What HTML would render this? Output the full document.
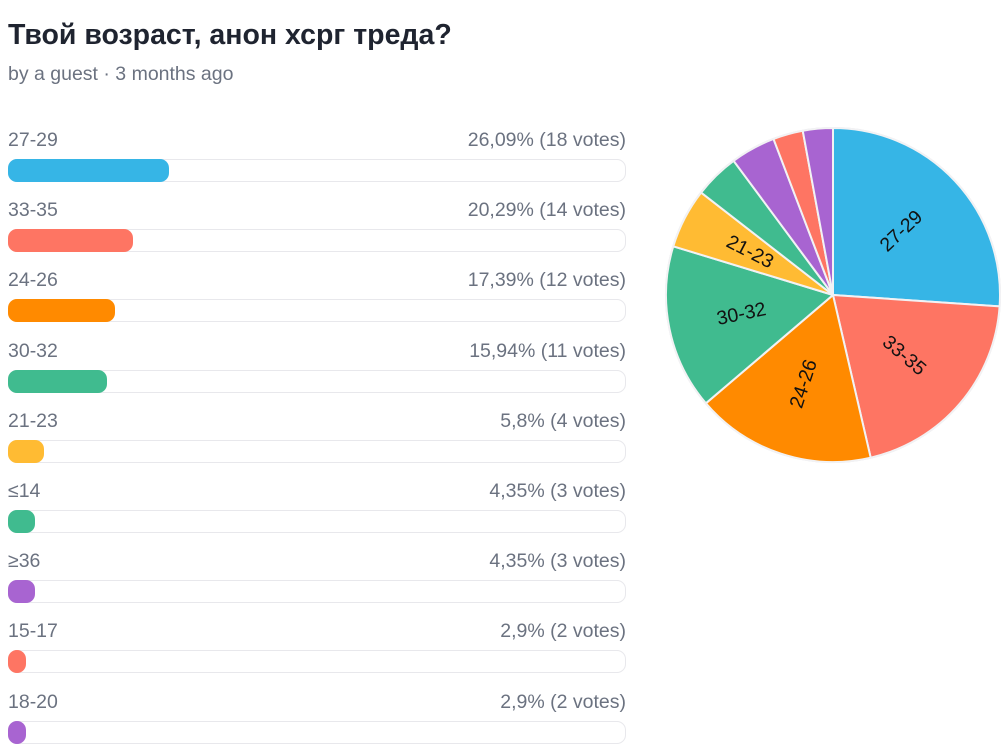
<!DOCTYPE html>
<html><head><meta charset="utf-8"><style>
body{margin:0;background:#fff;font-family:"Liberation Sans","Noto Sans CJK SC",sans-serif;width:1005px;height:756px;overflow:hidden;position:relative}
h1{position:absolute;left:8px;top:19px;margin:0;font-size:28.5px;font-weight:bold;color:#1f2430}
.sub{position:absolute;left:8px;top:63px;font-size:19.5px;color:#6b7280}
.row{position:absolute;left:8px;width:618px}
.lab{position:absolute;left:0;top:-1px;font-size:19.5px;color:#6b7280}
.val{position:absolute;right:0;top:-1px;font-size:19.5px;color:#6b7280}
.track{position:absolute;left:0;top:29px;width:616px;height:21px;border:1px solid #e8e8ec;border-radius:9px;background:#fff}
.fill{position:absolute;left:0;top:29px;height:23px;border-radius:9px}
</style></head><body>
<h1>Твой возраст, анон хсрг треда?</h1>
<div class="sub">by a guest · 3 months ago</div>
<div id="rows"></div>
<svg id="pie" width="1005" height="756" style="position:absolute;left:0;top:0"></svg>
<script>
const labels=["27-29","33-35","24-26","30-32","21-23","≤14","≥36","15-17","18-20"];
const votes=[18,14,12,11,4,3,3,2,2];
const pcts=["26,09%","20,29%","17,39%","15,94%","5,8%","4,35%","4,35%","2,9%","2,9%"];
const colors=["#36b5e6","#fe7563","#ff8a00","#40bb8f","#ffbb33","#40bb8f","#a864d1","#fe7563","#a864d1"];
const total=votes.reduce((a,b)=>a+b,0);
const rows=document.getElementById('rows');
labels.forEach((l,i)=>{
 const r=document.createElement('div');r.className='row';r.style.top=(130+i*70.2)+'px';
 
 
 const w=Math.max(18,votes[i]/total*618);
 r.innerHTML='<div class="lab">'+l+'</div><div class="val">'+pcts[i]+' ('+votes[i]+' votes)</div><div class="track"></div><div class="fill" style="width:'+w+'px;background:'+colors[i]+'"></div>';
 rows.appendChild(r);
});
const svg=document.getElementById('pie');const NS='http://www.w3.org/2000/svg';
const cx=833,cy=295,R=167;
const bg=document.createElementNS(NS,'circle');bg.setAttribute('cx',cx);bg.setAttribute('cy',cy);bg.setAttribute('r',R+1);bg.setAttribute('fill','#e4e4e8');svg.appendChild(bg);
let a0=0;
function pt(a,r){const t=(a-90)*Math.PI/180;return[cx+r*Math.cos(t),cy+r*Math.sin(t)];}
votes.forEach((v,i)=>{
 const a1=a0+v/total*360;
 const p0=pt(a0,R),p1=pt(a1,R);
 const p=document.createElementNS(NS,'path');
 p.setAttribute('d',`M${cx},${cy}L${p0[0]},${p0[1]}A${R},${R} 0 ${a1-a0>180?1:0} 1 ${p1[0]},${p1[1]}Z`);
 p.setAttribute('fill',colors[i]);p.setAttribute('stroke','#f2f2f4');p.setAttribute('stroke-width','2');
 
 
 svg.appendChild(p);
 if(v/total>=0.05){
  const m=(a0+a1)/2;const c=pt(m,R*0.56);
  let rot=m-90;if(rot>90)rot-=180;
  const t=document.createElementNS(NS,'text');
  t.setAttribute('x',c[0]);t.setAttribute('y',c[1]);t.setAttribute('text-anchor','middle');t.setAttribute('dominant-baseline','central');
  t.setAttribute('font-size','19.5');t.setAttribute('fill','#111');t.setAttribute('font-family','Liberation Sans, sans-serif');
  t.setAttribute('transform',`rotate(${rot} ${c[0]} ${c[1]})`);
  t.textContent=labels[i];
  
  
  svg.appendChild(t);
 }
 a0=a1;
});
</script>
</body></html>
